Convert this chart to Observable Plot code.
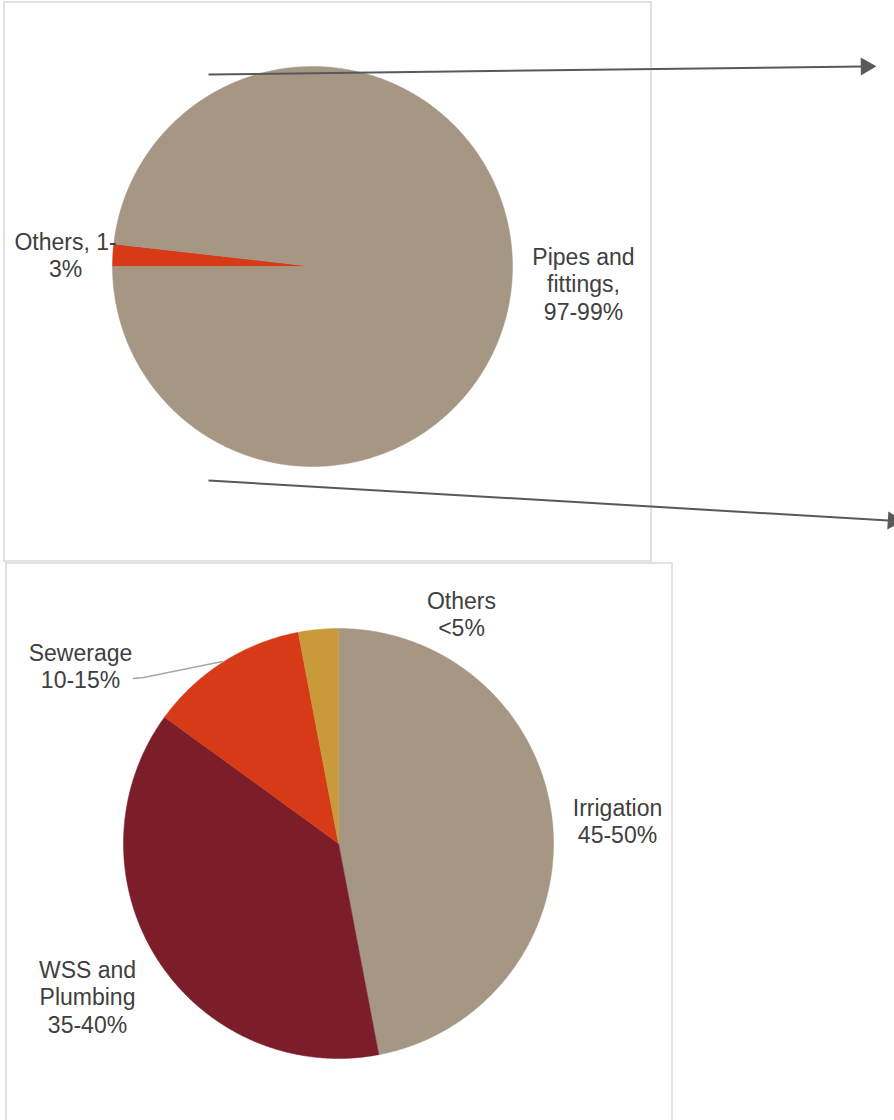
<!DOCTYPE html>
<html>
<head>
<meta charset="utf-8">
<script src="https://cdn.jsdelivr.net/npm/d3@7"></script>
<script src="https://cdn.jsdelivr.net/npm/@observablehq/plot@0.6"></script>
<style>
  html, body { margin: 0; padding: 0; background: #ffffff; }
  #chart svg { display: block; }
</style>
</head>
<body>
<div id="chart"></div>
<script>
// ---- Data ----
const topCategories = ["Others", "Pipes and fittings"];
const topValues = [1.8, 98.2];
const topLabels = ["Others, 1-\n3%", "Pipes and\nfittings,\n97-99%"];
const topColors = ["#D63A17", "#A69784"];

const bottomCategories = ["Irrigation", "WSS and Plumbing", "Sewerage", "Others"];
const bottomValues = [47, 38, 12, 3];
const bottomLabels = ["Irrigation\n45-50%", "WSS and\nPlumbing\n35-40%", "Sewerage\n10-15%", "Others\n<5%"];
const bottomColors = ["#A69784", "#7C1D2A", "#D63A17", "#C99A3A"];

// ---- Layout (positions in page pixels) ----
const W = 894, H = 1120;
const topPie = {cx: 312, cy: 266, r: 200, start: 270};
const bottomPie = {cx: 338, cy: 843, r: 215, start: 0};
const topLabelPos = [[65, 254], [583, 283]];
const bottomLabelPos = [[617, 820], [87, 996], [80, 665], [461, 613]];
const frames = [
  {x1: 4, y1: 2, x2: 651, y2: 561},
  {x1: 6, y1: 563, x2: 672, y2: 1130}
];
const arrows = [
  {x1: 208, y1: 74, x2: 862, y2: 66, hx: 865.5, hy: 66, rot: 89.3},
  {x1: 208, y1: 480, x2: 888, y2: 520, hx: 892.5, hy: 520.2, rot: 93.4}
];
const leader = [{x: 133, y: 678}, {x: 143, y: 677}, {x: 222, y: 661}];

// ---- Build slice polygons from values ----
function slices(values, pie) {
  const arcs = d3.pie().sort(null)
    .startAngle(pie.start * Math.PI / 180)
    .endAngle(pie.start * Math.PI / 180 + 2 * Math.PI)(values);
  return arcs.map(a => {
    const pts = [{x: pie.cx, y: pie.cy}];
    const n = Math.max(2, Math.ceil((a.endAngle - a.startAngle) / (Math.PI / 360)));
    for (let i = 0; i <= n; i++) {
      const t = a.startAngle + (a.endAngle - a.startAngle) * i / n;
      pts.push({x: pie.cx + pie.r * Math.sin(t), y: pie.cy - pie.r * Math.cos(t)});
    }
    pts.push({x: pie.cx, y: pie.cy});
    return pts;
  });
}

const topSlices = slices(topValues, topPie);
const bottomSlices = slices(bottomValues, bottomPie);

const font = "'Liberation Sans', Arial, Helvetica, sans-serif";
const textColor = "#404040";

const marks = [];
// frames
marks.push(Plot.rect(frames, {x1: "x1", y1: "y1", x2: "x2", y2: "y2", fill: "none", stroke: "#d9d9d9", strokeWidth: 1.5}));
// pies
topSlices.forEach((pts, i) => marks.push(Plot.line(pts, {x: "x", y: "y", fill: topColors[i], stroke: topColors[i], strokeWidth: 0.5, curve: "linear"})));
bottomSlices.forEach((pts, i) => marks.push(Plot.line(pts, {x: "x", y: "y", fill: bottomColors[i], stroke: bottomColors[i], strokeWidth: 0.5, curve: "linear"})));
// leader line
marks.push(Plot.line(leader, {x: "x", y: "y", stroke: "#a6a6a6", strokeWidth: 1.5}));
// labels
const textOpts = {fontSize: 23, fontFamily: font, fill: textColor, lineHeight: 1.2, textAnchor: "middle", lineAnchor: "middle"};
marks.push(Plot.text(topLabels.map((t, i) => ({t, x: topLabelPos[i][0], y: topLabelPos[i][1]})), {x: "x", y: "y", text: "t", ...textOpts}));
marks.push(Plot.text(bottomLabels.map((t, i) => ({t, x: bottomLabelPos[i][0], y: bottomLabelPos[i][1]})), {x: "x", y: "y", text: "t", ...textOpts}));
// arrows
marks.push(Plot.link(arrows, {x1: "x1", y1: "y1", x2: "x2", y2: "y2", stroke: "#595959", strokeWidth: 2}));
marks.push(Plot.dot(arrows, {x: "hx", y: "hy", symbol: "triangle", r: 6.7, fill: "#595959", stroke: "none", rotate: "rot"}));

const chart = Plot.plot({
  width: W,
  height: H,
  margin: 0,
  x: {domain: [0, W], range: [0, W], axis: null},
  y: {domain: [0, H], range: [0, H], axis: null},
  style: {background: "#ffffff", fontFamily: font},
  marks
});
document.getElementById("chart").appendChild(chart);
</script>
</body>
</html>
